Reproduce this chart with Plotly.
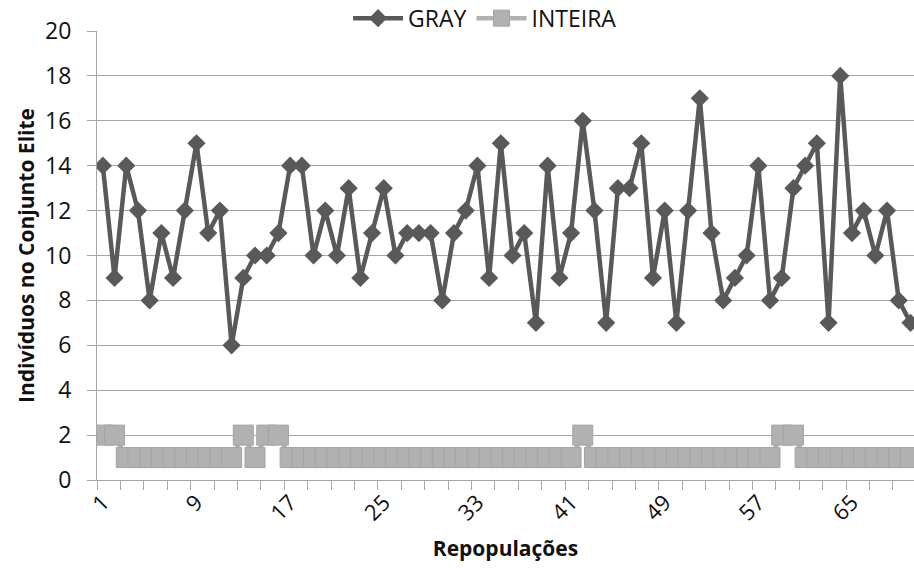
import plotly.graph_objects as go

# Repopulation index (1..70)
repopulacoes = list(range(1, 71))

# Individuals in the elite set per repopulation
gray = [14, 9, 14, 12, 8, 11, 9, 12, 15, 11,
        12, 6, 9, 10, 10, 11, 14, 14, 10, 12,
        10, 13, 9, 11, 13, 10, 11, 11, 11, 8,
        11, 12, 14, 9, 15, 10, 11, 7, 14, 9,
        11, 16, 12, 7, 13, 13, 15, 9, 12, 7,
        12, 17, 11, 8, 9, 10, 14, 8, 9, 13,
        14, 15, 7, 18, 11, 12, 10, 12, 8, 7]

inteira = [2, 2, 1, 1, 1, 1, 1, 1, 1, 1,
           1, 1, 2, 1, 2, 2, 1, 1, 1, 1,
           1, 1, 1, 1, 1, 1, 1, 1, 1, 1,
           1, 1, 1, 1, 1, 1, 1, 1, 1, 1,
           1, 2, 1, 1, 1, 1, 1, 1, 1, 1,
           1, 1, 1, 1, 1, 1, 1, 1, 2, 2,
           1, 1, 1, 1, 1, 1, 1, 1, 1, 1]

x_labels = [1, 9, 17, 25, 33, 41, 49, 57, 65]
y_ticks = list(range(0, 21, 2))

FONT = "Open Sans, Liberation Sans, sans-serif"
DARK = "#595959"
LIGHT = "#B1B1B1"
GRID = "#A6A6A6"
TEXT = "#111111"

fig = go.Figure()
fig.add_trace(go.Scatter(
    x=repopulacoes, y=gray, name="GRAY", mode="lines+markers",
    line=dict(color=DARK, width=4.5),
    marker=dict(symbol="diamond", size=14, color=DARK),
))
fig.add_trace(go.Scatter(
    x=repopulacoes, y=inteira, name="INTEIRA", mode="lines+markers",
    line=dict(color=LIGHT, width=4.5),
    marker=dict(symbol="square", size=20, color=LIGHT,
                line=dict(color="#A4A4A4", width=1)),
))

fig.update_layout(
    width=914, height=568,
    margin=dict(l=97, r=0, t=31, b=88, autoexpand=False),
    paper_bgcolor="white", plot_bgcolor="white",
    font=dict(family=FONT, size=22, color=TEXT),
    showlegend=True,
    legend=dict(orientation="h", x=0.475, xanchor="center",
                yref="container", y=0.968, yanchor="middle",
                font=dict(family=FONT, size=23, color=TEXT),
                bgcolor="rgba(0,0,0,0)", itemwidth=50, tracegroupgap=0),
)

fig.update_xaxes(
    range=[0.5, 70.3],
    tickmode="array", tickvals=x_labels, ticktext=[str(v) for v in x_labels],
    tickangle=-45, ticks="", tickfont=dict(family=FONT, size=22),
    showgrid=False, zeroline=False,
    showline=True, linecolor=GRID, linewidth=1,
    minor=dict(tick0=0.5, dtick=2, ticks="outside", ticklen=9,
               tickcolor=GRID, tickwidth=1, showgrid=False),
    title=dict(text="<b>Repopulações</b>", font=dict(family=FONT, size=21),
               standoff=16),
)

fig.update_yaxes(
    range=[0, 20],
    tickmode="array", tickvals=y_ticks,
    ticks="outside", ticklen=9, tickcolor=GRID, tickwidth=1,
    ticklabelstandoff=11,
    tickfont=dict(family=FONT, size=23),
    showgrid=True, gridcolor=GRID, gridwidth=1,
    zeroline=False, showline=True, linecolor=GRID, linewidth=1,
    title=dict(text="<b>Indivíduos no Conjunto Elite</b>",
               font=dict(family=FONT, size=21), standoff=4),
)

fig.write_html("out.html")
